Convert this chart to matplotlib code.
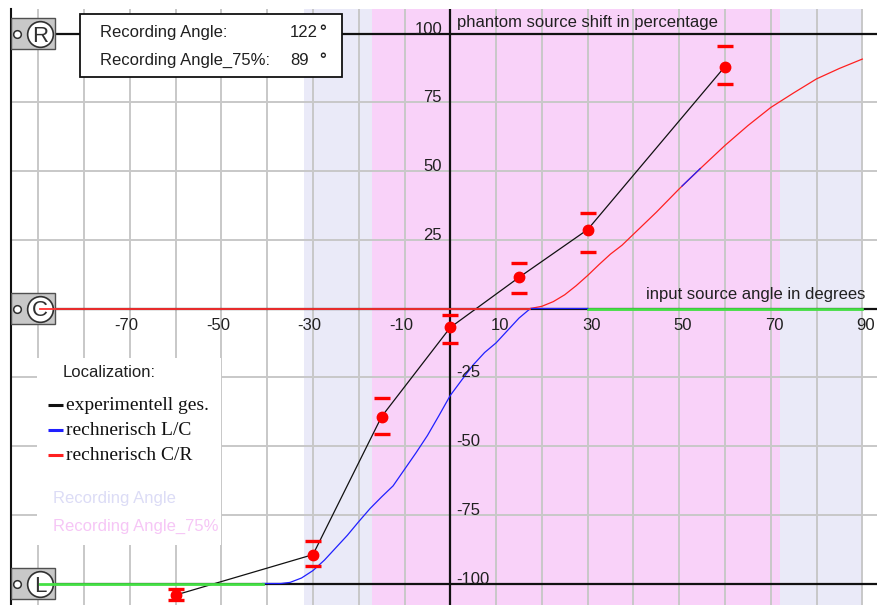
import matplotlib
matplotlib.use('Agg')
import matplotlib.pyplot as plt
from matplotlib.patches import Rectangle

# ---------------- data ----------------
x_tick_labels = [-70, -50, -30, -10, 10, 30, 50, 70, 90]
y_tick_labels = [100, 75, 50, 25, -25, -50, -75, -100]

exp_x = [-60, -30, -15, 0, 15, 30, 60]
exp_y = [-104.2, -89.5, -39.3, -6.9, 11.3, 28.7, 88.0]
err_hi = [2.2, 4.8, 6.6, 4.7, 5.4, 6.2, 7.3]
err_lo = [1.8, 4.3, 6.2, 5.8, 5.8, 8.0, 6.5]

lc_x = [-41, -37, -35, -32.5, -30, -27.5, -25, -22.5, -20, -17.5, -15, -12.5,
        -10, -7.5, -5, -2.5, 0, 2.5, 5, 7.5, 10, 12.5, 15, 17.5, 30]
lc_y = [-100, -100, -99.6, -98, -95.3, -91.5, -87, -82.5, -77.5, -72.7, -68.5,
        -64.5, -58.5, -52.5, -46.2, -39, -31.6, -26, -20.5, -16, -12.5, -8,
        -3.5, 0, 0]
lc_glitch_x = [50.6, 54.6]
lc_glitch_y = [44.5, 50.9]

cr_x = [17.5, 20, 22.5, 25, 27.5, 30, 32.5, 35, 37.5, 40, 45, 50, 55, 60, 65,
        70, 75, 80, 85, 90]
cr_y = [0, 0.8, 2.5, 5, 8.3, 12, 16, 19.8, 23, 27, 35, 43.5, 51.5, 59.3, 66.5,
        73.1, 78.4, 83.5, 87.3, 90.7]

left_base_x = [-89.65, -41]     # green L line
center_left_x = [-89.65, 17.5]  # red C line
center_right_x = [30, 90]       # green C line

rec_angle = 122
rec_angle_75 = 89
rec_span = (-32, 90)
rec75_span = (-17, 72)

legend_labels = ['experimentell ges.', 'rechnerisch L/C', 'rechnerisch C/R']
legend_colors = ['#111111', '#2020ff', '#ff2020']

# ---------------- layout helpers ----------------
PX0, PXS = 450.3, 4.578
PY0, PYS = 308.5, 2.75
def dx(px):
    return (px - PX0) / PXS
def dy(py):
    return (PY0 - py) / PYS

SANS = 'Liberation Sans'
SERIF = 'Liberation Serif'
TXT = '#202020'

fig = plt.figure(figsize=(8.77, 6.05), dpi=100)
ax = fig.add_axes([10.5 / 877, 0, 1 - 10.5 / 877, 596 / 605])
XMIN, XMAX = dx(10.5), dx(877)
ax.set_xlim(XMIN, XMAX)
ax.set_ylim(dy(605), dy(9))

ax.set_xticks(range(-90, 91, 10))
ax.set_yticks([-75, -50, -25, 25, 50, 75])
ax.set_axisbelow(True)
ax.grid(True, color='#c8c8c8', lw=1.4)
ax.tick_params(length=0, labelbottom=False, labelleft=False)
for s in ['top', 'right', 'bottom']:
    ax.spines[s].set_visible(False)
ax.spines['left'].set_color('#111111')
ax.spines['left'].set_linewidth(1.5)

# bands
ax.axvspan(*rec_span, color='#eaeaf8', lw=0, zorder=0.1)
ax.axvspan(*rec75_span, color='#f9d2f9', lw=0, zorder=0.15)

# legend white area
ax.add_patch(Rectangle((dx(37), dy(545)), dx(221) - dx(37), dy(358) - dy(545),
                       facecolor='white', edgecolor='none', zorder=1))

# black reference lines
box_right = dx(55)
ax.hlines([100, 0, -100], box_right, XMAX, color='#111111', lw=1.6, zorder=2)
ax.axvline(0, color='#111111', lw=1.6, zorder=2)

# colored lines
ax.plot(left_base_x, [-100, -100], color='#44e044', lw=2.0, zorder=7)
ax.plot(center_left_x, [0, 0], color='#ff3030', lw=1.3, zorder=7)
ax.plot(center_right_x, [0, 0], color='#44e044', lw=2.0, zorder=3)
ax.plot(lc_x, lc_y, color='#2020ff', lw=0.9, zorder=3.2)
ax.plot(cr_x, cr_y, color='#ff2020', lw=0.9, zorder=3.1)
ax.plot(lc_glitch_x, lc_glitch_y, color='#2020ff', lw=0.9, zorder=3.3)

# experimental
ax.plot(exp_x, exp_y, color='#111111', lw=0.9, zorder=4)
ax.plot(exp_x, [y + e for y, e in zip(exp_y, err_hi)], ls='none', marker='_',
        ms=11, mew=2.4, color='#ff0000', zorder=5)
ax.plot(exp_x, [y - e for y, e in zip(exp_y, err_lo)], ls='none', marker='_',
        ms=11, mew=2.4, color='#ff0000', zorder=5)
ax.plot(exp_x, exp_y, ls='none', marker='o', ms=7.5, color='#ff0000',
        mec='#ff0000', zorder=5.5)

# R / C / L boxes
for letter, yv in [('R', 100), ('C', 0), ('L', -100)]:
    ax.add_patch(Rectangle((XMIN + 0.1, yv - 5.8), box_right - XMIN - 0.1, 11.6,
                           facecolor='#c8c8c8', edgecolor='#505050', lw=1.0,
                           zorder=6))
    ax.plot([dx(40)], [yv], marker='o', ms=18.5, mfc='white', mec='#303030',
            mew=1.2, zorder=6.2)
    ax.plot([dx(16.7)], [yv], marker='o', ms=5.5, mfc='white', mec='#303030',
            mew=1.1, zorder=6.2)
    ax.text(dx(40), yv, letter, ha='center', va='center_baseline',
            fontsize=16, family=SANS, color='#303030', zorder=6.5)

# info box
ax.add_patch(Rectangle((dx(80), dy(77)), dx(342) - dx(80), dy(14) - dy(77),
                       facecolor='white', edgecolor='#111111', lw=1.3,
                       zorder=6))
ax.text(dx(100), dy(37.3), 'Recording Angle:', fontsize=12, family=SANS,
        color=TXT, va='baseline', zorder=7)
ax.text(dx(100), dy(65), 'Recording Angle_75%:', fontsize=12, family=SANS,
        color=TXT, va='baseline', zorder=7)
ax.text(dx(290), dy(37.3), str(rec_angle), fontsize=12, family=SANS,
        color=TXT, va='baseline', zorder=7)
ax.text(dx(290), dy(65), str(rec_angle_75), fontsize=12, family=SANS,
        color=TXT, va='baseline', zorder=7)
ax.text(dx(319), dy(37.3), '°', fontsize=12, family=SANS, color=TXT,
        va='baseline', zorder=7, fontweight='bold')
ax.text(dx(319), dy(65), '°', fontsize=12, family=SANS, color=TXT,
        va='baseline', zorder=7, fontweight='bold')

# axis titles
ax.text(dx(457), dy(27), 'phantom source shift in percentage', fontsize=12,
        family=SANS, color=TXT, va='baseline', ha='left', zorder=7)
ax.text(dx(865), dy(299), 'input source angle in degrees', fontsize=12,
        family=SANS, color=TXT, va='baseline', ha='right', zorder=7)

# tick labels
for t in x_tick_labels:
    off = 0.75 if t > 0 else -0.75
    ax.text(t + off, dy(330), str(t), fontsize=12, family=SANS, color=TXT,
            ha='center', va='baseline', zorder=7)
for t in y_tick_labels:
    if t > 0:
        ax.text(dx(442), t, str(t), fontsize=12, family=SANS, color=TXT,
                ha='right', va='baseline', zorder=7)
    else:
        ax.text(dx(456), t, str(t), fontsize=12, family=SANS, color=TXT,
                ha='left', va='baseline', zorder=7)

# legend
ax.text(dx(63), dy(377), 'Localization:', fontsize=12, family=SANS,
        color=TXT, va='baseline', zorder=7)
for i, (lab, col) in enumerate(zip(legend_labels, legend_colors)):
    base = 410 + i * 25
    ax.plot([dx(48), dx(63)], [dy(base - 5), dy(base - 5)], color=col, lw=2.2,
            zorder=7, solid_capstyle='butt')
    ax.text(dx(66), dy(base), lab, fontsize=14, family=SERIF, color='#111111',
            va='baseline', zorder=7)
ax.text(dx(53), dy(503), 'Recording Angle', fontsize=12, family=SANS,
        color='#dcdcf6', va='baseline', zorder=7)
ax.text(dx(53), dy(531), 'Recording Angle_75%', fontsize=12, family=SANS,
        color='#f6c6f6', va='baseline', zorder=7)

fig.savefig('out.png', dpi=100)
